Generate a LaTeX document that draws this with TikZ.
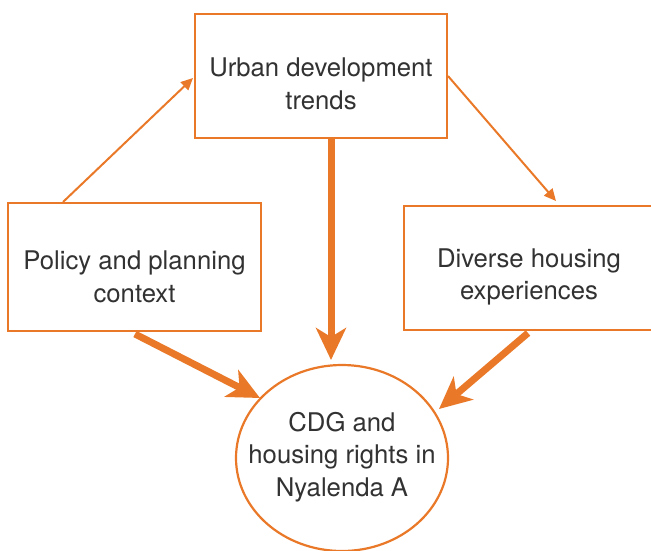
\documentclass[tikz,border=0pt]{standalone}
\usepackage{fontspec}
\setmainfont{TeX Gyre Heros}
\usetikzlibrary{arrows.meta,shapes.geometric}
\definecolor{org}{RGB}{233,121,40}
\definecolor{txt}{RGB}{50,50,50}
\begin{document}
\begin{tikzpicture}[x=1pt,y=-1pt,
  boxnode/.style={draw=org,line width=2.2pt,fill=white,inner sep=0pt},
  lbl/.style={text=txt,align=center,inner sep=0pt,font=\fontsize{25.7}{32.5}\selectfont},
  thin/.style={draw=org,line width=2pt,-{Triangle[length=12pt,width=11pt]}},
  thick/.style={draw=org,line width=7pt,-{Stealth[length=32pt,width=30pt,inset=9pt]}}]
\useasboundingbox (0,0) rectangle (651,550);
\begin{scope}
\clip (0,0) rectangle (651,550);
\node[boxnode,minimum width=252pt,minimum height=124pt] (urban) at (321,76) {};
\node[boxnode,minimum width=253pt,minimum height=128pt] (policy) at (134.5,267) {};
\node[boxnode,minimum width=252pt,minimum height=124pt,anchor=west] (diverse) at (403,268) {};
\node[boxnode,ellipse,minimum width=212pt,minimum height=186pt] (cdg) at (342,458) {};
\node[lbl] (urbant) at (321,84) {Urban development\\trends};
\node[lbl] (policyt) at (134.5,277) {Policy and planning\\context};
\node[lbl] (diverset) at (529,277) {Diverse housing\\experiences};
\node[lbl] (cdgt) at (342,457) {CDG and\\housing rights in\\Nyalenda A};
\coordinate (p1) at (63,202);
\coordinate (u1) at (193,78);
\coordinate (u2) at (448,76);
\coordinate (d1) at (556,201);
\coordinate (u3) at (331,139);
\coordinate (c1) at (331,360);
\coordinate (p2) at (135,334);
\coordinate (c2) at (260,398);
\coordinate (d2) at (528,333);
\coordinate (c3) at (439,409);
\draw[thin] (p1) -- (u1);
\draw[thin] (u2) -- (d1);
\draw[thick] (u3) -- (c1);
\draw[thick] (p2) -- (c2);
\draw[thick] (d2) -- (c3);
\end{scope}
\end{tikzpicture}
\end{document}
